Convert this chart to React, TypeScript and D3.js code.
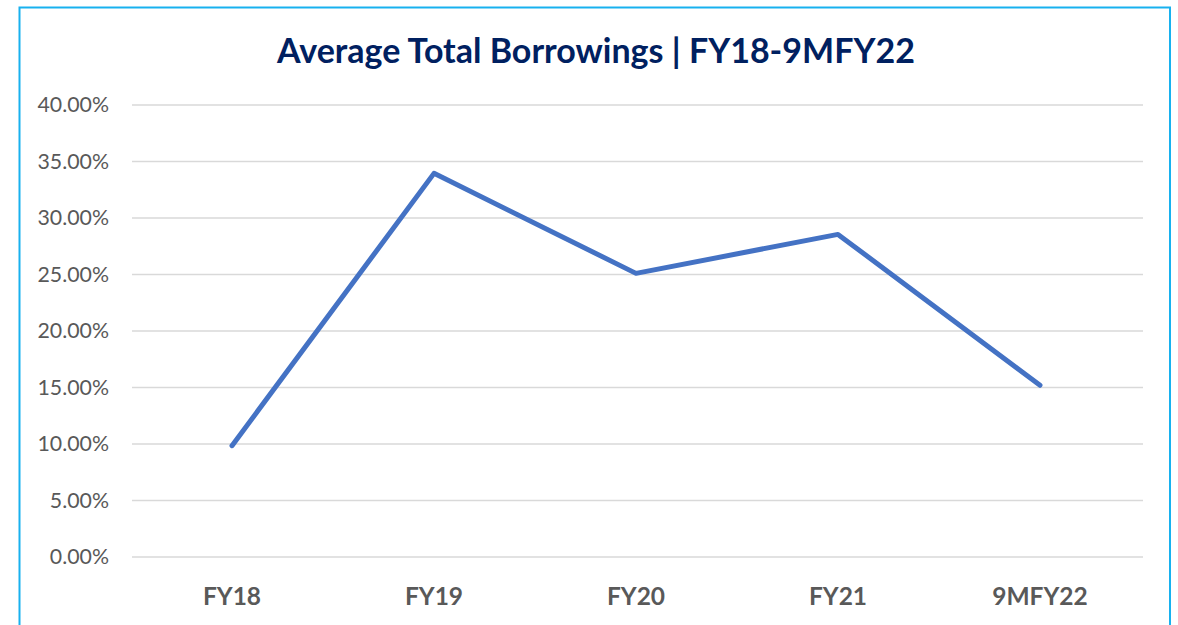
import React from "react";
import * as d3 from "d3";

const categories = ["FY18", "FY19", "FY20", "FY21", "9MFY22"];
const values = [9.85, 33.95, 25.1, 28.55, 15.2];
const yTicks = [0, 5, 10, 15, 20, 25, 30, 35, 40];
const title = "Average Total Borrowings | FY18-9MFY22";

export default function App() {
  const W = 1178, H = 625;
  const x = d3.scaleBand<string>().domain(categories).range([131, 1141]);
  const y = d3.scaleLinear().domain([0, 40]).range([557, 105]);
  const line = d3
    .line<number>()
    .x((_, i) => (x(categories[i]) as number) + x.bandwidth() / 2)
    .y((d) => y(d));
  const font = "Lato, 'Open Sans', 'DejaVu Sans', sans-serif";
  return (
    <svg width={W} height={H} style={{ position: "absolute", left: 0, top: 0 }}>
      <rect x={0} y={0} width={W} height={H} fill="#fff" />
      <rect x={19.5} y={7.5} width={1150.5} height={640} fill="none" stroke="#18b1ef" strokeWidth={2} />
      <text x={596} y={63} textAnchor="middle" fontFamily={font} fontWeight="bold" fontSize={34} fill="#002060">
        {title}
      </text>
      {yTicks.map((t) => (
        <g key={t}>
          <line x1={132} x2={1143} y1={y(t)} y2={y(t)} stroke="#d9d9d9" strokeWidth={1.5} />
          <text x={109} y={y(t) + 7} textAnchor="end" fontFamily={font} fontSize={21.3} fill="#595959">
            {t.toFixed(2) + "%"}
          </text>
        </g>
      ))}
      {categories.map((c) => (
        <text key={c} x={(x(c) as number) + x.bandwidth() / 2} y={605} textAnchor="middle" fontFamily={font} fontWeight="bold" fontSize={24.5} fill="#595959">
          {c}
        </text>
      ))}
      <path d={line(values) || ""} fill="none" stroke="#4472c4" strokeWidth={5} strokeLinejoin="round" strokeLinecap="round" />
    </svg>
  );
}
